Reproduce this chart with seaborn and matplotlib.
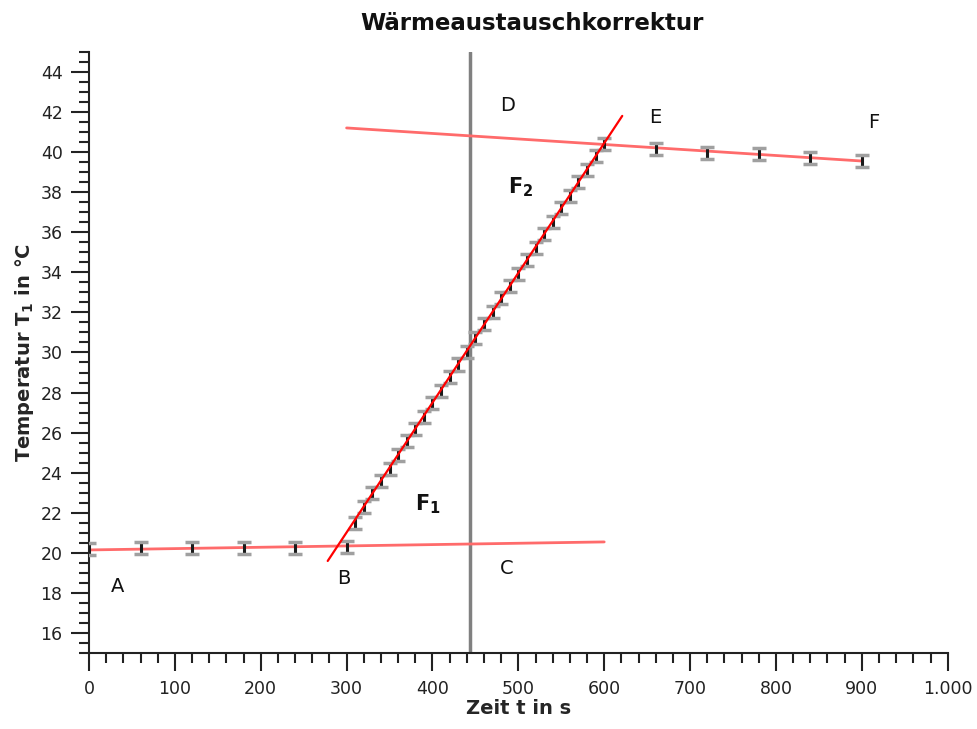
import matplotlib
matplotlib.use("Agg")
import matplotlib.pyplot as plt
import matplotlib.ticker as mticker
import seaborn as sns
import pandas as pd

# Messwerte
zeit = [0, 60, 120, 180, 240, 300,
        310, 320, 330, 340, 350, 360, 370, 380, 390, 400,
        410, 420, 430, 440, 450, 460, 470, 480, 490, 500,
        510, 520, 530, 540, 550, 560, 570, 580, 590, 600,
        660, 720, 780, 840, 900]
temp = [20.2, 20.25, 20.25, 20.25, 20.25, 20.3,
        21.5, 22.3, 23.0, 23.6, 24.2, 24.9, 25.6, 26.2, 26.8, 27.5,
        28.1, 28.8, 29.4, 30.0, 30.7, 31.4, 32.0, 32.7, 33.3, 33.9,
        34.6, 35.2, 35.9, 36.5, 37.2, 37.8, 38.5, 39.1, 39.8, 40.4,
        40.15, 39.95, 39.9, 39.7, 39.55]
temp_err = 0.3

# Ausgleichsgeraden (Endpunkte)
vor_t, vor_T = [0, 600], [20.15, 20.55]
nach_t, nach_T = [300, 900], [41.2, 39.55]
anstieg_t, anstieg_T = [278, 621], [19.6, 41.8]
t_korr = 444

labels = ["A", "B", "C", "D", "E", "F"]
label_t = [33, 297, 486, 488, 660, 914]
label_T = [18.35, 18.75, 19.2, 42.3, 41.7, 41.45]

sns.set_style("ticks")
plt.rcParams["font.family"] = ["DejaVu Sans"]

fig = plt.figure(figsize=(9.78, 7.29), dpi=100)
ax = fig.add_axes([0.091, 0.104, 0.878, 0.825])

ax.axvline(t_korr, color="#808080", lw=2.5, zorder=1)

fits = pd.DataFrame({
    "t": vor_t + nach_t,
    "T": vor_T + nach_T,
    "g": ["vor"] * 2 + ["nach"] * 2,
})
sns.lineplot(data=fits, x="t", y="T", units="g", estimator=None,
             color="#ff6b6b", lw=2, ax=ax, zorder=2)

eb = ax.errorbar(zeit, temp, yerr=temp_err, fmt="none", ecolor="#1a1a1a",
                 elinewidth=2.2, capsize=5, capthick=2.5, zorder=3)
for cap in eb[1]:
    cap.set_markeredgecolor("#a0a0a0")
    cap.set_color("#a0a0a0")

sns.lineplot(x=anstieg_t, y=anstieg_T, color="#ff0000", lw=1.6, ax=ax, zorder=4)

for lab, x, y in zip(labels, label_t, label_T):
    ax.text(x, y, lab, fontsize=14, ha="center", va="center", color="#111111")
ax.text(395, 22.45, r"F$_\mathbf{1}$", fontsize=15, fontweight="bold",
        ha="center", va="center", color="#111111")
ax.text(503, 38.25, r"F$_\mathbf{2}$", fontsize=15, fontweight="bold",
        ha="center", va="center", color="#111111")

ax.set_xlim(0, 1000)
ax.set_ylim(15, 45)
ax.xaxis.set_major_locator(mticker.MultipleLocator(100))
ax.xaxis.set_minor_locator(mticker.MultipleLocator(20))
ax.yaxis.set_major_locator(mticker.MultipleLocator(2))
ax.yaxis.set_minor_locator(mticker.MultipleLocator(0.5))
ax.xaxis.set_major_formatter(mticker.FuncFormatter(
    lambda v, p: f"{int(v):,}".replace(",", ".")))
ax.yaxis.set_major_formatter(mticker.FuncFormatter(lambda v, p: f"{int(v)}"))
ax.tick_params(which="major", direction="out", length=13, width=1.5,
               labelsize=12.5, colors="#222222", pad=6)
ax.tick_params(which="minor", direction="out", length=7, width=1.5,
               colors="#222222")
for s in ["left", "bottom"]:
    ax.spines[s].set_linewidth(1.5)
    ax.spines[s].set_color("#222222")
sns.despine(ax=ax)

ax.set_xlabel("Zeit t in s", fontsize=14, fontweight="bold", labelpad=1)
ax.set_ylabel(r"Temperatur T$_\mathbf{1}$ in °C", fontsize=14,
              fontweight="bold", labelpad=3)
fig.text(0.544, 0.968, "Wärmeaustauschkorrektur", fontsize=16.5,
         fontweight="bold", ha="center", va="center", color="#111111")

fig.savefig("out.png", dpi=100)
